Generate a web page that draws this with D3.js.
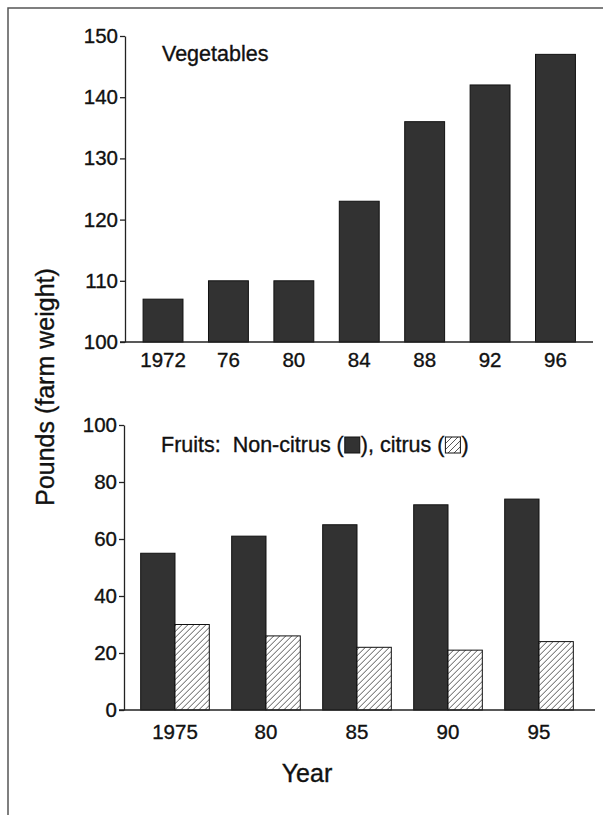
<!DOCTYPE html>
<html>
<head>
<meta charset="utf-8">
<script src="https://cdn.jsdelivr.net/npm/d3@7"></script>
<style>
  body { margin: 0; background: #fff; }
  text { font-family: "Liberation Sans", Arial, sans-serif; fill: #111; stroke: #111; stroke-width: 0.35px; }
</style>
</head>
<body>
<div class="chart"></div>
<script>
// values
const vegYears = ["1972", "76", "80", "84", "88", "92", "96"];
const vegValues = [107, 110, 110, 123, 136, 142, 147];
const vegTicks = [100, 110, 120, 130, 140, 150];

const fruitYears = ["1975", "80", "85", "90", "95"];
const nonCitrus = [55, 61, 65, 72, 74];
const citrus = [30, 26, 22, 21, 24];
const fruitTicks = [0, 20, 40, 60, 80, 100];
const fruitKinds = ["noncitrus", "citrus"];

const width = 603, height = 815;
const dark = "#323232";

const svg = d3.select(".chart").append("svg")
  .attr("width", width)
  .attr("height", height);

const defs = svg.append("defs");
const hatch = defs.append("pattern")
  .attr("id", "hatch")
  .attr("patternUnits", "userSpaceOnUse")
  .attr("width", 6)
  .attr("height", 6);
hatch.append("rect").attr("width", 6).attr("height", 6).attr("fill", "#fff");
hatch.append("path")
  .attr("d", "M0,6 L6,0 M-1,1 L1,-1 M5,7 L7,5")
  .attr("stroke", "#444")
  .attr("stroke-width", 0.9);

// page frame (top and left edge only)
svg.append("path")
  .attr("d", "M8,815 L8,8 L603,8")
  .attr("fill", "none")
  .attr("stroke", "#555")
  .attr("stroke-width", 1.5);

// ---------- Vegetables ----------
var x1 = d3.scaleBand().domain(vegYears).range([130, 588.5])
  .paddingInner(0.39).paddingOuter(0.2);
var y1 = d3.scaleLinear().domain([100, 150]).range([342, 36]);

svg.append("g")
  .selectAll("rect")
  .data(vegValues)
  .enter()
  .append("rect")
  .attr("x", (d, i) => x1(vegYears[i]))
  .attr("y", (d) => y1(d))
  .attr("width", x1.bandwidth())
  .attr("height", (d) => y1(100) - y1(d))
  .attr("fill", dark)
  .attr("stroke", "#111")
  .attr("stroke-width", 1);

svg.append("g")
  .attr("transform", "translate(125,0)")
  .call(d3.axisLeft(y1).tickValues(vegTicks).tickSize(5).tickSizeOuter(0).tickPadding(2));

svg.append("line")
  .attr("x1", 120).attr("x2", 593)
  .attr("y1", y1(100)).attr("y2", y1(100))
  .attr("stroke", "#222").attr("stroke-width", 1.3);

var xAxis1 = svg.append("g")
  .attr("transform", "translate(0," + y1(100) + ")")
  .call(d3.axisBottom(x1).tickSize(0).tickPadding(10));
xAxis1.select(".domain").remove();

svg.append("text")
  .attr("x", 162)
  .attr("y", 61)
  .style("font-size", "21.5px")
  .text("Vegetables");

// ---------- Fruits ----------
var x2 = d3.scaleBand().domain(fruitYears).range([124.3, 589.7])
  .paddingInner(0.246).paddingOuter(0.18);
var xSub = d3.scaleBand().domain(fruitKinds).range([0, x2.bandwidth()]);
var y2 = d3.scaleLinear().domain([0, 100]).range([710, 425]);

var fruitData = fruitYears.map((yr, i) => ({
  year: yr,
  vals: [
    { kind: "noncitrus", v: nonCitrus[i] },
    { kind: "citrus", v: citrus[i] },
  ],
}));

svg.append("g")
  .selectAll("g")
  .data(fruitData)
  .enter()
  .append("g")
  .attr("transform", (d) => "translate(" + x2(d.year) + ",0)")
  .selectAll("rect")
  .data((d) => d.vals)
  .enter()
  .append("rect")
  .attr("x", (d) => xSub(d.kind))
  .attr("y", (d) => y2(d.v))
  .attr("width", xSub.bandwidth())
  .attr("height", (d) => y2(0) - y2(d.v))
  .attr("fill", (d) => (d.kind === "citrus" ? "url(#hatch)" : dark))
  .attr("stroke", "#111")
  .attr("stroke-width", 1);

svg.append("g")
  .attr("transform", "translate(124,0)")
  .call(d3.axisLeft(y2).tickValues(fruitTicks).tickSize(5).tickSizeOuter(0).tickPadding(2));

svg.append("line")
  .attr("x1", 119).attr("x2", 595)
  .attr("y1", y2(0)).attr("y2", y2(0))
  .attr("stroke", "#222").attr("stroke-width", 1.3);

var xAxis2 = svg.append("g")
  .attr("transform", "translate(0," + y2(0) + ")")
  .call(d3.axisBottom(x2).tickSize(0).tickPadding(14));
xAxis2.select(".domain").remove();

// legend line: text pieces with inline swatches
var legend = svg.append("g").attr("transform", "translate(161,452)");
var pieces = ["Fruits:\u00a0\u00a0Non-citrus (", "box:dark", "), citrus (", "box:hatch", ")"];
var cx = 0;
pieces.forEach(function (p) {
  if (p.indexOf("box:") === 0) {
    legend.append("rect")
      .attr("x", cx + 1)
      .attr("y", -15)
      .attr("width", 15)
      .attr("height", 16)
      .attr("fill", p === "box:dark" ? dark : "url(#hatch)")
      .attr("stroke", "#111")
      .attr("stroke-width", 1);
    cx += 17;
  } else {
    var t = legend.append("text")
      .attr("x", cx)
      .attr("y", 0)
      .style("font-size", "21.5px")
      .text(p);
    cx += t.node().getComputedTextLength();
  }
});

// shared axis styling
svg.selectAll(".tick text").style("font-size", "20.5px").attr("fill", "#111");
svg.selectAll(".tick line").attr("stroke", "#222").attr("stroke-width", 1.3);
svg.selectAll(".domain").attr("stroke", "#222").attr("stroke-width", 1.3);

// axis titles
svg.append("text")
  .attr("transform", "translate(54,387) rotate(-90)")
  .attr("text-anchor", "middle")
  .style("font-size", "25px")
  .text("Pounds (farm weight)");

svg.append("text")
  .attr("x", 307)
  .attr("y", 782)
  .attr("text-anchor", "middle")
  .style("font-size", "25px")
  .text("Year");
</script>
</body>
</html>
